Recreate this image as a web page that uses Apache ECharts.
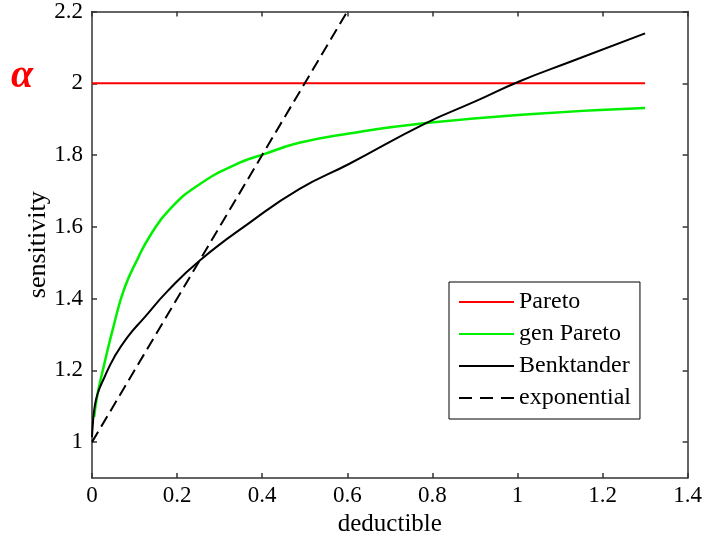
<!DOCTYPE html>
<html>
<head>
<meta charset="utf-8">
<script src="https://cdn.jsdelivr.net/npm/echarts@6/dist/echarts.min.js"></script>
<style>html,body{margin:0;padding:0;background:#fff;}#c{width:705px;height:542px;}</style>
</head>
<body>
<div id="c"></div>
<script>
var xTicks = [0, 0.2, 0.4, 0.6, 0.8, 1, 1.2, 1.4];
var yTicks = [1, 1.2, 1.4, 1.6, 1.8, 2, 2.2];

var paretoX = [0, 1.3];
var paretoY = [2, 2];

var genParetoX = [0.005, 0.013, 0.029, 0.052, 0.076, 0.107, 0.138, 0.182, 0.252, 0.346, 0.401, 0.487, 0.604, 0.785, 1.027, 1.3];
var genParetoY = [1.07, 1.134, 1.218, 1.329, 1.428, 1.510, 1.578, 1.648, 1.718, 1.778, 1.801, 1.834, 1.860, 1.889, 1.914, 1.931];

var benkX = [0, 0.002, 0.005, 0.013, 0.029, 0.052, 0.083, 0.123, 0.177, 0.252, 0.37, 0.487, 0.604, 0.785, 0.902, 1.004, 1.129, 1.3];
var benkY = [1.014, 1.05, 1.088, 1.134, 1.18, 1.236, 1.292, 1.347, 1.42, 1.505, 1.611, 1.705, 1.775, 1.889, 1.95, 2.005, 2.062, 2.139];

var expX = [0, 0.6];
var expY = [1.0, 2.2];

function pairs(xs, ys) { return xs.map(function (x, i) { return [x, ys[i]]; }); }

var font = 'Liberation Serif';
var axisLineStyle = { color: '#333', width: 1.5 };

var chart = echarts.init(document.getElementById('c'));
chart.setOption({
  animation: false,
  backgroundColor: '#fff',
  grid: { left: 92, right: 16, top: 10, bottom: 63, containLabel: false },
  legend: {
    orient: 'vertical',
    left: 449, top: 282,
    backgroundColor: '#fff',
    borderColor: '#000', borderWidth: 1,
    padding: [8, 9, 9, 10],
    itemWidth: 55, itemHeight: 2, itemGap: 8,
    textStyle: { fontFamily: font, fontSize: 24, color: '#000', lineHeight: 24 },
    data: [
      { name: 'Pareto', icon: 'rect' },
      { name: 'gen Pareto', icon: 'rect' },
      { name: 'Benktander', icon: 'rect' },
      { name: 'exponential', icon: 'path://M0,0h13v2h-13z M21,0h13v2h-13z M42,0h13v2h-13z' }
    ]
  },
  graphic: [{
    type: 'text', left: 11, top: 57,
    style: { text: 'α', fill: '#ff0000', font: 'italic bold 40px "Liberation Serif"' }
  }],
  xAxis: [{
    type: 'value', min: 0, max: 1.4, interval: 0.2,
    name: 'deductible', nameLocation: 'middle', nameGap: 34, nameMoveOverlap: false,
    nameTextStyle: { fontFamily: font, fontSize: 25, color: '#000' },
    axisLine: { show: true, lineStyle: axisLineStyle },
    axisTick: { show: true, inside: true, length: 5, lineStyle: axisLineStyle },
    axisLabel: { fontFamily: font, fontSize: 23, color: '#000', margin: 6,
      customValues: xTicks, formatter: function (v) { return String(+v.toFixed(1)); } },
    splitLine: { show: false }
  }, {
    type: 'value', min: 0, max: 1.4, interval: 0.2, position: 'top',
    axisLine: { show: true, onZero: false, lineStyle: axisLineStyle },
    axisTick: { show: true, inside: true, length: 5, lineStyle: axisLineStyle },
    axisLabel: { show: false }, splitLine: { show: false }
  }],
  yAxis: [{
    type: 'value', min: 0.9, max: 2.2, interval: 0.1,
    name: 'sensitivity', nameLocation: 'middle', nameGap: 41, nameMoveOverlap: false,
    nameTextStyle: { fontFamily: font, fontSize: 26, color: '#000' },
    axisLine: { show: true, lineStyle: axisLineStyle },
    axisTick: { show: true, inside: true, length: 5, lineStyle: axisLineStyle, customValues: yTicks },
    axisLabel: { fontFamily: font, fontSize: 23, color: '#000', margin: 9,
      customValues: yTicks, formatter: function (v) { return String(+v.toFixed(1)); } },
    splitLine: { show: false }
  }, {
    type: 'value', min: 0.9, max: 2.2, interval: 0.1, position: 'right',
    axisLine: { show: true, onZero: false, lineStyle: axisLineStyle },
    axisTick: { show: true, inside: true, length: 5, lineStyle: axisLineStyle, customValues: yTicks },
    axisLabel: { show: false }, splitLine: { show: false }
  }],
  series: [{
    name: 'Pareto', type: 'line', data: pairs(paretoX, paretoY), symbol: 'none',
    itemStyle: { color: '#ff0000' }, lineStyle: { color: '#ff0000', width: 2 }
  }, {
    name: 'gen Pareto', type: 'line', data: pairs(genParetoX, genParetoY), symbol: 'none', smooth: 0.5,
    itemStyle: { color: '#00f000' }, lineStyle: { color: '#00f000', width: 2.5 }
  }, {
    name: 'Benktander', type: 'line', data: pairs(benkX, benkY), symbol: 'none', smooth: 0.5,
    itemStyle: { color: '#000' }, lineStyle: { color: '#000', width: 2 }
  }, {
    name: 'exponential', type: 'line', data: pairs(expX, expY), symbol: 'none',
    itemStyle: { color: '#000' }, lineStyle: { color: '#000', width: 2, type: [12, 6] }
  }]
});
</script>
</body>
</html>
